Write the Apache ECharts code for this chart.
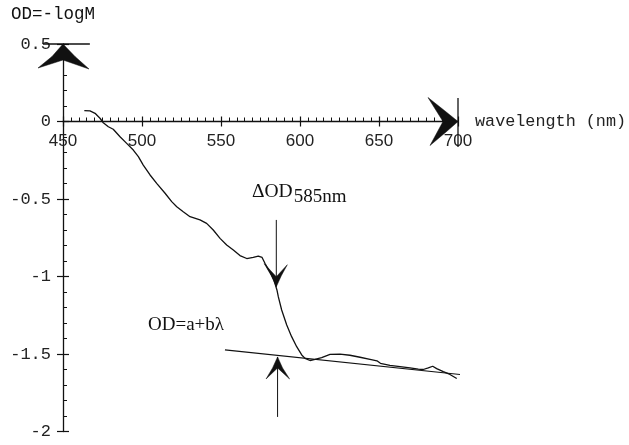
<!DOCTYPE html>
<html>
<head>
<meta charset="utf-8">
<script src="https://cdn.jsdelivr.net/npm/echarts@6/dist/echarts.min.js"></script>
<style>
html,body{margin:0;padding:0;background:#fff;}
#c{width:629px;height:445px;}
</style>
</head>
<body>
<div id="c"></div>
<script>
// ---- data ----
const wavelength = [463.5,467.1,470.3,473.4,475.5,478.7,481.8,486.1,490.3,494.5,497.7,500.8,505.1,509.3,514.6,518.8,522.0,526.1,530.4,536.7,540.9,545.1,549.4,553.6,557.8,562.0,566.3,570.4,573.6,576.0,577.8,581.0,583.5,585.4,586.3,588.4,591.6,594.7,597.9,601.1,603.2,606.3,609.5,613.7,619.0,625.3,631.6,638.0,644.3,648.7,650.9,656.9,663.3,669.6,674.9,678.0,681.2,684.0,686.5,690.7,694.9,699.2];
const od = [0.070,0.068,0.053,0.021,-0.008,-0.034,-0.050,-0.098,-0.141,-0.184,-0.227,-0.281,-0.345,-0.399,-0.463,-0.517,-0.550,-0.582,-0.614,-0.635,-0.657,-0.700,-0.754,-0.797,-0.829,-0.865,-0.884,-0.877,-0.868,-0.877,-0.915,-0.971,-1.023,-1.087,-1.132,-1.216,-1.313,-1.388,-1.453,-1.506,-1.528,-1.542,-1.535,-1.523,-1.503,-1.501,-1.508,-1.521,-1.534,-1.544,-1.560,-1.574,-1.582,-1.590,-1.597,-1.600,-1.590,-1.579,-1.594,-1.614,-1.632,-1.658];
const baselineWl = [552.5, 703];
const baselineOd = [-1.474, -1.634];
const xRange = [450, 700];
const yRange = [-2, 0.5];
const xStep = 50;
const yStep = 0.5;
// annotation anchors (data space)
const deltaWl = 585;
const deltaTop = -0.635, deltaTip = -1.066;
const upWl = 585.8;
const upTip = -1.519, upBottom = -1.906;

const chart = echarts.init(document.getElementById('c'), null, {renderer:'canvas'});
const ink = '#111';
const mono = 'Liberation Mono';
const serif = 'Liberation Serif';

function xAxes(offset) {
  return [{
    type: 'value', position: 'bottom', min: xRange[0], max: xRange[1], interval: xStep, offset: offset,
    axisLine: {show: true, onZero: false, lineStyle: {color: ink, width: 1.3}},
    axisTick: {show: true, inside: true, length: 5, lineStyle: {color: ink, width: 1.2}},
    minorTick: {show: true, splitNumber: 10, length: 4, lineStyle: {color: ink, width: 1}},
    axisLabel: {margin: 11, fontFamily: 'Liberation Sans', fontSize: 17, color: '#222'},
    splitLine: {show: false},
    name: 'wavelength (nm)', nameLocation: 'end', nameGap: 17,
    nameTextStyle: {fontFamily: mono, fontSize: 16.8, color: '#222', verticalAlign: 'middle'}
  }, {
    type: 'value', position: 'bottom', min: xRange[0], max: xRange[1], interval: xStep, offset: offset,
    axisLine: {show: false, onZero: false},
    axisTick: {show: true, inside: false, length: 5, lineStyle: {color: ink, width: 1.2}},
    axisLabel: {show: false}, splitLine: {show: false}
  }];
}

const option = {
  backgroundColor: '#fff',
  animation: false,
  grid: {left: 63, top: 44, width: 395, height: 387.5, containLabel: false, outerBoundsMode: 'none'},
  xAxis: xAxes(0),
  yAxis: [{
    type: 'value', position: 'left', min: yRange[0], max: yRange[1], interval: yStep,
    axisLine: {show: true, onZero: false, lineStyle: {color: ink, width: 1.3}},
    axisTick: {show: true, inside: true, length: 6, lineStyle: {color: ink, width: 1.2}},
    minorTick: {show: true, splitNumber: 5, length: 4, lineStyle: {color: ink, width: 1}},
    axisLabel: {margin: 12, fontFamily: mono, fontSize: 17, color: '#222'},
    splitLine: {show: false}
  }, {
    type: 'value', position: 'left', min: yRange[0], max: yRange[1], interval: yStep,
    axisLine: {show: false, onZero: false},
    axisTick: {show: true, inside: false, length: 6, lineStyle: {color: ink, width: 1.2}},
    axisLabel: {show: false}, splitLine: {show: false}
  }],
  series: [{
    type: 'line', name: 'OD',
    data: wavelength.map((w, i) => [w, od[i]]),
    showSymbol: false, symbol: 'none',
    lineStyle: {color: ink, width: 1.3},
    z: 5
  }, {
    type: 'line', name: 'fit',
    data: baselineWl.map((w, i) => [w, baselineOd[i]]),
    showSymbol: false, symbol: 'none', clip: false,
    lineStyle: {color: ink, width: 1.2},
    z: 4
  }]
};
chart.setOption(option);

function px(x, y) { return chart.convertToPixel({xAxisIndex: 0, yAxisIndex: 0}, [x, y]); }

// move the wavelength axis onto OD = 0 (through the y scale)
const zeroOffset = -(px(xRange[0], yRange[0])[1] - px(xRange[0], 0)[1]);
chart.setOption({xAxis: xAxes(zeroOffset)});

function arrow(tip, offs) {
  return {type: 'polygon', z: 10,
    shape: {points: offs.map(o => [tip[0] + o[0], tip[1] + o[1]])},
    style: {fill: ink, stroke: ink, lineWidth: 0.5}};
}
function line(a, b, w) {
  return {type: 'line', z: 9, shape: {x1: a[0], y1: a[1], x2: b[0], y2: b[1]},
    style: {stroke: ink, lineWidth: w || 1}};
}
function text(p, str, font, size) {
  return {type: 'text', z: 10, x: p[0], y: p[1],
    style: {text: str, fontFamily: font, fontSize: size, fill: ink, textAlign: 'left', textVerticalAlign: 'top'}};
}

const yTop = px(xRange[0], yRange[1]);
const xEnd = px(xRange[1], 0);
const dTop = px(deltaWl, deltaTop), dTip = px(deltaWl, deltaTip);
const uTip = px(upWl, upTip), uBot = px(upWl, upBottom);

chart.setOption({
  graphic: [
    text([11, 5], 'OD=-logM', mono, 17.5),
    // top of OD axis
    line(px(437.3, yRange[1]), px(467, yRange[1]), 1.3),
    arrow(yTop, [[0,0],[-11,12.5],[-25,24],[0,16],[26,25],[12,12.5]]),
    // end of wavelength axis
    line(px(xRange[1], 0.152), px(xRange[1], -0.165), 1.3),
    arrow(xEnd, [[0,0],[-13,-10.5],[-30,-24],[-15,0],[-28,24],[-12,10.5]]),
    // ΔOD arrows
    line(dTop, dTip, 1),
    arrow(dTip, [[0,0],[-5,-11],[-12,-23],[0,-10],[11,-22],[5,-11]]),
    line(uBot, uTip, 1),
    arrow(uTip, [[0,0],[-5,11],[-11.5,22],[0,11],[12,22],[5,11]]),
    // labels
    text(px(569.6, -0.39), 'ΔOD', serif, 19.5),
    text(px(596, -0.425), '585nm', serif, 19),
    text(px(503.8, -1.25), 'OD=a+bλ', serif, 19)
  ]
});
</script>
</body>
</html>
